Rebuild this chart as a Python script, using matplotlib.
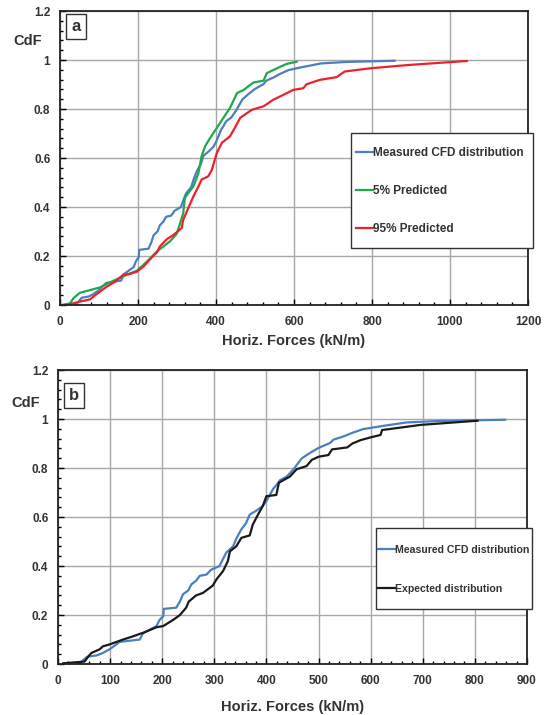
import matplotlib as mpl
mpl.use('Agg')
import matplotlib.pyplot as plt
from matplotlib.patches import Rectangle
from matplotlib.ticker import MultipleLocator

# measured CFD distribution (same in both panels)
meas_x = [40, 56, 74, 86, 99, 112, 118, 157, 163, 189, 195, 202, 203, 227, 234, 240, 250, 256,
          265, 272, 285, 294, 310, 317, 323, 336, 343, 352, 361, 368, 380, 393, 400, 413, 419,
          426, 439, 452, 468, 484, 500, 522, 529, 548, 564, 586, 618, 669, 733, 858]
meas_y = [0.0, 0.03, 0.035, 0.045, 0.06, 0.08, 0.09, 0.10, 0.125, 0.155, 0.18, 0.195, 0.225,
          0.23, 0.255, 0.285, 0.30, 0.325, 0.34, 0.36, 0.365, 0.385, 0.40, 0.43, 0.455, 0.48,
          0.515, 0.55, 0.575, 0.61, 0.625, 0.645, 0.665, 0.715, 0.73, 0.75, 0.765, 0.795, 0.84,
          0.862, 0.882, 0.902, 0.916, 0.929, 0.943, 0.959, 0.970, 0.986, 0.992, 0.997]

# 5% predicted
p5_x = [4, 26, 34, 51, 77, 103, 120, 145, 171, 197, 214, 231, 248, 265, 282, 299, 308, 316,
        320, 329, 342, 355, 363, 372, 385, 402, 419, 436, 454, 471, 488, 496, 522, 530, 556,
        581, 607]
p5_y = [0.0, 0.007, 0.027, 0.05, 0.061, 0.072, 0.086, 0.105, 0.123, 0.14, 0.164, 0.19, 0.218,
        0.239, 0.26, 0.29, 0.334, 0.375, 0.437, 0.457, 0.484, 0.539, 0.607, 0.648, 0.682,
        0.723, 0.764, 0.805, 0.865, 0.878, 0.899, 0.908, 0.916, 0.946, 0.966, 0.984, 0.993]

# 95% predicted
p95_x = [17, 51, 77, 90, 103, 120, 141, 162, 179, 197, 214, 231, 248, 256, 274, 291, 312, 316,
         329, 342, 355, 363, 380, 389, 402, 415, 436, 449, 462, 492, 522, 547, 573, 598, 624,
         632, 666, 709, 730, 794, 896, 1043]
p95_y = [0.0, 0.014, 0.023, 0.04, 0.055, 0.075, 0.095, 0.123, 0.127, 0.136, 0.157, 0.187,
         0.214, 0.239, 0.269, 0.286, 0.314, 0.348, 0.396, 0.443, 0.484, 0.512, 0.525, 0.55,
         0.62, 0.662, 0.689, 0.725, 0.764, 0.797, 0.811, 0.838, 0.858, 0.878, 0.885, 0.901,
         0.919, 0.93, 0.953, 0.966, 0.98, 0.996]

# expected distribution
exp_x = [10, 51, 58, 64, 80, 86, 99, 125, 144, 157, 163, 189, 202, 221, 234, 246, 251, 265,
         278, 297, 304, 317, 326, 330, 342, 352, 368, 374, 384, 393, 400, 419, 424, 445, 458,
         477, 487, 500, 519, 526, 555, 565, 581, 600, 619, 622, 696, 805]
exp_y = [0.003, 0.01, 0.03, 0.045, 0.06, 0.072, 0.08, 0.10, 0.113, 0.123, 0.127, 0.15, 0.155,
         0.18, 0.20, 0.23, 0.255, 0.28, 0.29, 0.32, 0.345, 0.38, 0.42, 0.46, 0.48, 0.515,
         0.525, 0.57, 0.61, 0.645, 0.685, 0.69, 0.74, 0.765, 0.795, 0.808, 0.833, 0.846, 0.853,
         0.876, 0.884, 0.90, 0.914, 0.925, 0.935, 0.955, 0.976, 0.993]

blue = "#4a7fc1"
green = "#1fa84a"
red = "#f0202a"
black = "#1a1a1a"

plt.rcParams['font.family'] = ['Liberation Sans', 'DejaVu Sans']
plt.rcParams['font.weight'] = 'bold'

fig = plt.figure(figsize=(5.48, 7.15), dpi=100)
ax1 = fig.add_axes([0.1095, 0.5734, 0.854, 0.4112])
ax2 = fig.add_axes([0.1058, 0.0713, 0.8558, 0.4112])


def style(ax, xmax, xmajor, xminor, panel, pan_y, cdf_y, labelpad):
    ax.set_xlim(0, xmax)
    ax.set_ylim(0, 1.2)
    ax.xaxis.set_major_locator(MultipleLocator(xmajor))
    ax.xaxis.set_minor_locator(MultipleLocator(xminor))
    ax.yaxis.set_major_locator(MultipleLocator(0.2))
    ax.yaxis.set_minor_locator(MultipleLocator(0.04))
    ax.yaxis.set_major_formatter(mpl.ticker.FuncFormatter(lambda v, p: "%g" % round(v, 1)))
    ax.grid(True, which='major', color="#a8a8a8", linewidth=1.0)
    ax.set_axisbelow(True)
    ax.tick_params(which='both', direction='in', labelsize=8.5, pad=8, width=1.0)
    ax.tick_params(which='major', length=4)
    ax.tick_params(which='minor', length=2.5)
    ax.tick_params(axis='y', pad=7)
    for s in ax.spines.values():
        s.set_linewidth(1.3)
        s.set_color("#222222")
    for lab in ax.get_xticklabels() + ax.get_yticklabels():
        lab.set_fontweight('bold')
        lab.set_color("#333333")
    ax.set_xlabel("Horiz. Forces (kN/m)", fontsize=10.5, fontweight='bold', labelpad=labelpad,
                  color="#333333")
    ax.text(-0.068, cdf_y, "CdF", transform=ax.transAxes, ha='center', va='center',
            fontsize=10.5, fontweight='bold', color="#333333")
    ax.text(0.034, pan_y, panel, transform=ax.transAxes, ha='center', va='center',
            fontsize=12, fontweight='bold', color="#333333",
            bbox=dict(boxstyle='square,pad=0.3', facecolor='white', edgecolor='#333333',
                      linewidth=1.0))


def legend_box(ax, x0, y0, x1, y1):
    # white framed box behind the legend, sticks out past the right spine like the original
    ax.add_patch(Rectangle((x0, y0), x1 - x0, y1 - y0, transform=ax.transAxes,
                           facecolor='white', edgecolor='#333333', linewidth=1.0,
                           clip_on=False, zorder=4))


ax1.plot(meas_x, meas_y, color=blue, linewidth=1.6, label="Measured CFD distribution")
ax1.plot(p5_x, p5_y, color=green, linewidth=1.6, label="5% Predicted")
ax1.plot(p95_x, p95_y, color=red, linewidth=1.6, label="95% Predicted")
style(ax1, 1200, 200, 40, "a", 0.946, 0.898, 4)
legend_box(ax1, 0.622, 0.194, 1.011, 0.585)
leg1 = ax1.legend(loc='center left', bbox_to_anchor=(0.632, 0.388), fontsize=8.5,
                  handlelength=1.45, handletextpad=0.05, labelspacing=2.2, borderpad=0,
                  borderaxespad=0, frameon=False)
leg1.set_zorder(5)
for t in leg1.get_texts():
    t.set_color("#333333")

ax2.plot(meas_x, meas_y, color=blue, linewidth=1.6, label="Measured CFD distribution")
ax2.plot(exp_x, exp_y, color=black, linewidth=1.6, label="Expected distribution")
style(ax2, 900, 100, 20, "b", 0.913, 0.889, 9)
legend_box(ax2, 0.678, 0.187, 1.011, 0.4626)
leg2 = ax2.legend(loc='center left', bbox_to_anchor=(0.682, 0.321), fontsize=7.6,
                  handlelength=1.6, handletextpad=0.0, labelspacing=2.75, borderpad=0,
                  borderaxespad=0, frameon=False)
leg2.set_zorder(5)
for t in leg2.get_texts():
    t.set_color("#333333")

fig.savefig("out.png", dpi=100)
